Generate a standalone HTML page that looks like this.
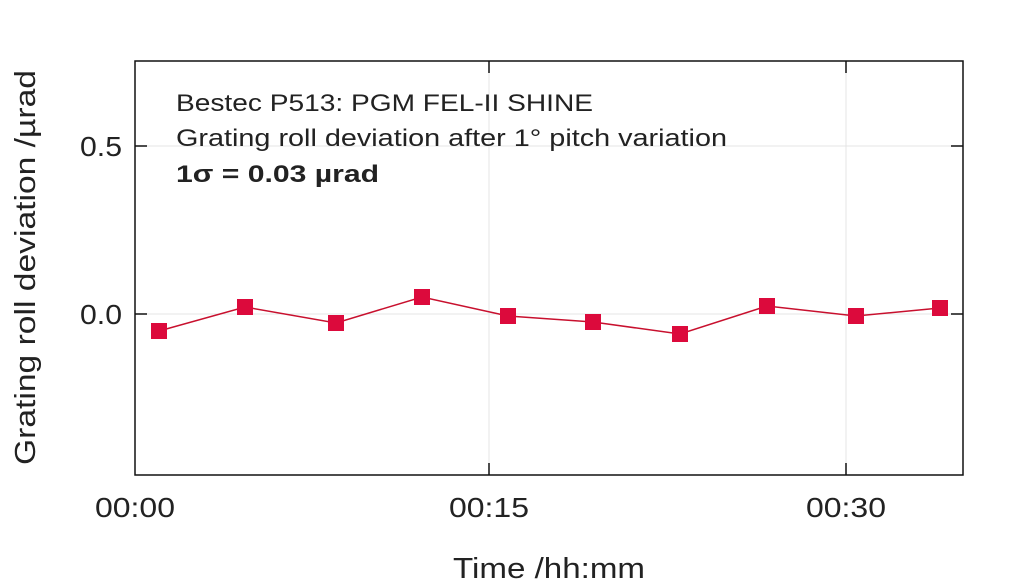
<!DOCTYPE html>
<html><head><meta charset="utf-8"><style>
html,body{margin:0;padding:0;background:#fff;}
svg{display:block;font-family:"Liberation Sans",sans-serif;}
</style></head><body>
<svg width="1024" height="588" viewBox="0 0 1024 588" xmlns="http://www.w3.org/2000/svg">
<g stroke="#e4e4e4" stroke-width="1">
<line x1="489" y1="61" x2="489" y2="475"/><line x1="846" y1="61" x2="846" y2="475"/>
<line x1="135" y1="146" x2="963" y2="146"/><line x1="135" y1="314" x2="963" y2="314"/>
</g>
<g stroke="#111" stroke-width="1.5">
<line x1="489" y1="475" x2="489" y2="463"/><line x1="846" y1="475" x2="846" y2="463"/>
<line x1="489" y1="61" x2="489" y2="73"/><line x1="846" y1="61" x2="846" y2="73"/>
<line x1="135" y1="146" x2="147" y2="146"/><line x1="135" y1="314" x2="147" y2="314"/>
<line x1="963" y1="146" x2="951" y2="146"/><line x1="963" y1="314" x2="951" y2="314"/>
</g>
<rect x="135" y="61" width="828" height="414" fill="none" stroke="#111" stroke-width="1.5"/>
<polyline fill="none" stroke="#c8102e" stroke-width="1.5" points="159,331 245,307 336,323 422,297 508,316 593,322 680,334 767,306 856,316 940,308"/>
<g fill="#dc0a3c">
<rect x="151" y="323" width="16" height="16"/><rect x="237" y="299" width="16" height="16"/>
<rect x="328" y="315" width="16" height="16"/><rect x="414" y="289" width="16" height="16"/>
<rect x="500" y="308" width="16" height="16"/><rect x="585" y="314" width="16" height="16"/>
<rect x="672" y="326" width="16" height="16"/><rect x="759" y="298" width="16" height="16"/>
<rect x="848" y="308" width="16" height="16"/><rect x="932" y="300" width="16" height="16"/>
</g>
<g font-size="28" fill="#222" lengthAdjust="spacingAndGlyphs">
<text x="80" y="156" textLength="42" lengthAdjust="spacingAndGlyphs">0.5</text>
<text x="80" y="324" textLength="42" lengthAdjust="spacingAndGlyphs">0.0</text>
<text x="95" y="517" textLength="80" lengthAdjust="spacingAndGlyphs">00:00</text>
<text x="449" y="517" textLength="80" lengthAdjust="spacingAndGlyphs">00:15</text>
<text x="806" y="517" textLength="80" lengthAdjust="spacingAndGlyphs">00:30</text>
<text x="453" y="578" font-size="29" textLength="192" lengthAdjust="spacingAndGlyphs">Time /hh:mm</text>
<text transform="translate(35,465) rotate(-90)" font-size="29" textLength="395" lengthAdjust="spacingAndGlyphs">Grating roll deviation /µrad</text>
</g>
<g font-size="24" fill="#222">
<text x="176" y="111" textLength="417" lengthAdjust="spacingAndGlyphs">Bestec P513: PGM FEL-II SHINE</text>
<text x="176" y="146" textLength="551" lengthAdjust="spacingAndGlyphs">Grating roll deviation after 1° pitch variation</text>
<text x="176" y="182" font-weight="bold" textLength="203" lengthAdjust="spacingAndGlyphs">1σ = 0.03 µrad</text>
</g>
</svg>
</body></html>
